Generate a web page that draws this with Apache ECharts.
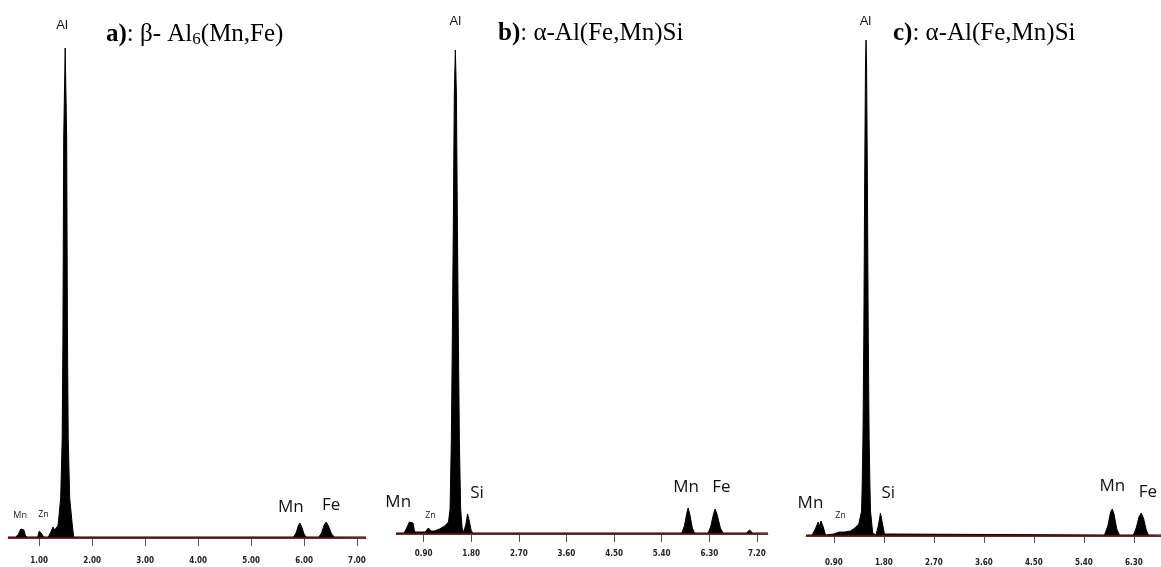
<!DOCTYPE html>
<html>
<head>
<meta charset="utf-8">
<script src="https://cdn.jsdelivr.net/npm/echarts@6/dist/echarts.min.js"></script>
<style>
  html, body { margin: 0; padding: 0; background: #fff; }
  #chart { width: 1161px; height: 567px; }
</style>
</head>
<body>
<div id="chart"></div>
<script>
// EDS spectra, [energy keV, counts]
const spectrumA = [
  [0.41, 1], [0.55, 1], [0.60, 3], [0.65, 9], [0.68, 11], [0.71, 8], [0.74, 2], [0.78, 1],
  [0.97, 1], [1.00, 7], [1.02, 8], [1.05, 4], [1.08, 1],
  [1.17, 1], [1.22, 6], [1.26, 11], [1.29, 8], [1.32, 10], [1.35, 12],
  [1.36, 15], [1.405, 40], [1.433, 100], [1.447, 200], [1.462, 400], [1.49, 490],
  [1.518, 400], [1.533, 200], [1.547, 100], [1.575, 40], [1.62, 15], [1.65, 1],
  [5.80, 1], [5.85, 5], [5.89, 12], [5.92, 15], [5.95, 12], [6.00, 4], [6.04, 1],
  [6.28, 1], [6.33, 5], [6.38, 13], [6.42, 16], [6.46, 12], [6.52, 4], [6.57, 1],
  [7.17, 1]
];
const spectrumB = [
  [0.38, 1], [0.53, 1], [0.58, 6], [0.63, 12], [0.66, 14], [0.70, 11], [0.73, 2], [0.76, 1],
  [0.93, 2], [0.99, 6], [1.04, 3], [1.10, 3], [1.20, 5], [1.30, 8],
  [1.37, 12], [1.40, 25], [1.424, 94], [1.44, 180], [1.46, 300], [1.48, 440], [1.50, 484],
  [1.52, 440], [1.54, 300], [1.56, 180], [1.576, 94], [1.60, 25], [1.63, 5],
  [1.66, 2], [1.70, 10], [1.73, 20], [1.76, 14], [1.80, 3], [1.84, 1],
  [5.78, 1], [5.83, 8], [5.88, 22], [5.90, 26], [5.93, 20], [5.98, 6], [6.02, 1],
  [6.28, 1], [6.33, 8], [6.38, 20], [6.41, 25], [6.45, 19], [6.51, 6], [6.56, 1],
  [7.00, 1], [7.06, 4], [7.12, 1], [7.41, 1]
];
const spectrumC = [
  [0.40, 1], [0.51, 1], [0.56, 6], [0.62, 14], [0.64, 10], [0.67, 15], [0.71, 9], [0.75, 1],
  [0.90, 2], [1.00, 4], [1.10, 4], [1.20, 5], [1.28, 8],
  [1.35, 12], [1.40, 25], [1.41, 50], [1.425, 100], [1.44, 200], [1.455, 350], [1.47, 470], [1.48, 496],
  [1.49, 470], [1.505, 350], [1.52, 200], [1.535, 100], [1.55, 50], [1.56, 25], [1.60, 3],
  [1.66, 1], [1.70, 10], [1.74, 23], [1.77, 14], [1.81, 2],
  [5.77, 1], [5.83, 10], [5.88, 24], [5.91, 27], [5.94, 22], [5.99, 7], [6.04, 1],
  [6.29, 1], [6.34, 8], [6.39, 19], [6.43, 23], [6.47, 18], [6.52, 6], [6.56, 1],
  [6.79, 1]
];

// tick labels of each energy axis
const ticksA = [1, 2, 3, 4, 5, 6, 7];
const ticksB = [0.9, 1.8, 2.7, 3.6, 4.5, 5.4, 6.3, 7.2];
const ticksC = [0.9, 1.8, 2.7, 3.6, 4.5, 5.4, 6.3];

// element labels: [text, energy, counts level]
const elementsA = [["Al", 1.43, 513], ["Mn", 0.64, 23], ["Zn", 1.08, 24], ["Mn", 5.75, 31], ["Fe", 6.51, 33]];
const elementsB = [["Al", 1.50, 513], ["Mn", 0.42, 32], ["Zn", 1.03, 19], ["Si", 1.91, 41], ["Mn", 5.86, 47], ["Fe", 6.53, 47]];
const elementsC = [["Al", 1.47, 515], ["Mn", 0.48, 33], ["Zn", 1.02, 21], ["Si", 1.88, 43], ["Mn", 5.91, 50], ["Fe", 6.55, 44]];

const titles = [
  "{b|a)}: β- Al{s|6}(Mn,Fe)",
  "{b|b)}: α-Al(Fe,Mn)Si",
  "{b|c)}: α-Al(Fe,Mn)Si"
];

const myChart = echarts.init(document.getElementById("chart"));

const panels = [
  { data: spectrumA, ticks: ticksA, els: elementsA, left: 8, width: 358, bottom: 29, min: 0.41, max: 7.17, offset: 8, labelGap: 11 },
  { data: spectrumB, ticks: ticksB, els: elementsB, left: 396, width: 372, bottom: 33, min: 0.378, max: 7.41, offset: 8, labelGap: 8 },
  { data: spectrumC, ticks: ticksC, els: elementsC, left: 806, width: 355, bottom: 31, min: 0.40, max: 6.786, offset: 7, labelGap: 16 }
];

const grid = [], xAxis = [], yAxis = [], series = [];
panels.forEach((p, i) => {
  grid.push({ left: p.left, width: p.width, top: 10, bottom: p.bottom });
  const h = 567 - 10 - p.bottom;
  xAxis.push({
    type: "value", gridIndex: i, min: p.min, max: p.max, offset: p.offset,
    splitLine: { show: false },
    axisLine: { lineStyle: { color: "#666", width: 1 } },
    axisTick: { customValues: p.ticks, length: 4, lineStyle: { color: "#555" } },
    axisLabel: {
      customValues: p.ticks, formatter: v => v.toFixed(2), margin: p.labelGap,
      fontSize: 8, fontWeight: "bold", color: "#222",
      fontFamily: "DejaVu Sans Condensed, Liberation Sans Narrow, sans-serif"
    }
  });
  // second axis only for the inner half of the crossing ticks
  xAxis.push({
    type: "value", gridIndex: i, min: p.min, max: p.max, position: "bottom", offset: p.offset,
    splitLine: { show: false },
    axisLine: { show: false },
    axisTick: { customValues: p.ticks, inside: true, length: 4, lineStyle: { color: "#555" } },
    axisLabel: { show: false }
  });
  yAxis.push({ type: "value", gridIndex: i, min: 0, max: h, show: false });

  const marks = p.els.map((e, k) => {
    let st;
    if (e[0] === "Al") st = { fontFamily: "Liberation Sans", fontSize: 13, color: "#111" };
    else if ((i === 0 && k <= 2) || e[0] === "Zn") st = { fontFamily: "Open Sans", fontSize: 9, color: "#222" };
    else st = { fontFamily: "Open Sans", fontSize: 17, color: "#111" };
    return { name: e[0], coord: [e[1], e[2]], label: st };
  });

  series.push({
    type: "line",
    xAxisIndex: i * 2, yAxisIndex: i,
    data: p.data,
    showSymbol: false,
    smooth: false,
    lineStyle: { color: "#000", width: 1 },
    areaStyle: { color: "#000", opacity: 1 },
    markLine: {
      silent: true, symbol: "none", label: { show: false },
      lineStyle: { color: "#7a1515", width: 1.5, type: "solid" },
      data: [{ yAxis: 0 }]
    },
    markPoint: {
      symbol: "circle", symbolSize: 0,
      label: { show: true, position: "inside", formatter: "{b}" },
      data: marks
    }
  });
});

const titleLeft = [106, 498, 893];
const option = {
  animation: false,
  title: titles.map((t, i) => ({
    text: t, left: titleLeft[i], top: 21, padding: 0,
    textStyle: {
      fontFamily: "Liberation Serif", fontSize: 25, fontWeight: "normal", color: "#000",
      rich: {
        b: { fontFamily: "Liberation Serif", fontSize: 25, fontWeight: "bold", color: "#000" },
        s: { fontFamily: "Liberation Serif", fontSize: 17, color: "#000", padding: [10, 0, 0, 0] }
      }
    }
  })),
  grid: grid,
  xAxis: xAxis,
  yAxis: yAxis,
  series: series
};

myChart.setOption(option);
window.addEventListener("resize", () => myChart.resize());
</script>
</body>
</html>
